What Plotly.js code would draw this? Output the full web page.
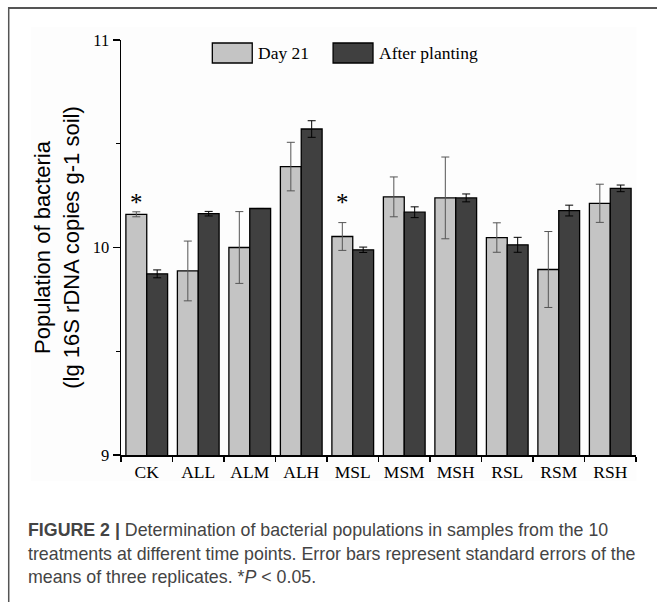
<!DOCTYPE html>
<html>
<head>
<meta charset="utf-8">
<script src="https://cdn.plot.ly/plotly-3.0.1.min.js"></script>
<style>
  html, body { margin: 0; padding: 0; background: #ffffff; }
  #chart { width: 657px; height: 602px; }
</style>
</head>
<body>
<div id="chart"></div>
<script>
// ---- data ----
const treatments = ['CK', 'ALL', 'ALM', 'ALH', 'MSL', 'MSM', 'MSH', 'RSL', 'RSM', 'RSH'];
const day21      = [10.160, 9.887, 10.000, 10.390, 10.053, 10.244, 10.239, 10.048, 9.894, 10.213];
const day21Err   = [0.012, 0.144, 0.173, 0.117, 0.067, 0.096, 0.197, 0.071, 0.183, 0.092];
const afterPlant = [9.873, 10.163, 10.188, 10.571, 9.989, 10.170, 10.239, 10.013, 10.178, 10.285];
const afterErr   = [0.019, 0.011, 0.0, 0.040, 0.013, 0.026, 0.019, 0.036, 0.026, 0.016];
const sigMarks   = ['*', '', '', '', '*', '', '', '', '', ''];
const seriesNames = ['Day 21', 'After planting'];
const yTicks = [9, 10, 11];

// ---- geometry helpers (pixels -> paper) ----
const W = 657, H = 602;
const L = 120.5, R = 636.5, T = 40, B = 455;
const px = v => (v - L) / (R - L);
const py = v => (B - v) / (B - T);

const lightCol = '#c4c4c4', darkCol = '#404040';

const traces = [
  {
    type: 'bar', name: seriesNames[0], x: treatments, y: day21,
    marker: { color: lightCol, line: { color: '#000', width: 1.3 } },
    error_y: { type: 'data', array: day21Err, visible: true, color: '#555', thickness: 1, width: 4 },
    showlegend: false
  },
  {
    type: 'bar', name: seriesNames[1], x: treatments, y: afterPlant,
    marker: { color: darkCol, line: { color: '#000', width: 1.3 } },
    error_y: { type: 'data', array: afterErr, visible: true, color: '#000', thickness: 1, width: 4 },
    showlegend: false
  }
];

const bargap = 0.19;
const barOffset = (1 - bargap) / 4;
const sigLevel = 10.215;

const annotations = [];
sigMarks.forEach((m, i) => {
  if (m) annotations.push({
    xref: 'x', yref: 'y', x: i - barOffset, y: sigLevel, text: m, showarrow: false,
    font: { family: 'Liberation Serif', size: 25, color: '#000' }, xanchor: 'center', yanchor: 'middle'
  });
});
// legend texts
annotations.push({ xref: 'paper', yref: 'paper', x: px(256), y: py(53), text: seriesNames[0], showarrow: false,
  xanchor: 'left', yanchor: 'middle', font: { family: 'Liberation Serif', size: 17.5, color: '#000' } });
annotations.push({ xref: 'paper', yref: 'paper', x: px(377), y: py(53), text: seriesNames[1], showarrow: false,
  xanchor: 'left', yanchor: 'middle', font: { family: 'Liberation Serif', size: 17.5, color: '#000' } });
// caption
const capFont = { family: 'Liberation Sans', size: 17.8, color: '#444' };
const capLines = [
  '<b>FIGURE 2 |</b> Determination of bacterial populations in samples from the 10',
  'treatments at different time points. Error bars represent standard errors of the',
  'means of three replicates. *<i>P</i> &lt; 0.05.'
];
capLines.forEach((t, k) => {
  annotations.push({ xref: 'paper', yref: 'paper', x: px(25), y: py(530 + k * 23.5), text: t, showarrow: false,
    xanchor: 'left', yanchor: 'middle', font: capFont, align: 'left' });
});

const shapes = [
  // chart image background
  { type: 'rect', xref: 'paper', yref: 'paper', x0: px(30), x1: px(637), y0: py(27), y1: py(481),
    fillcolor: '#fdfdfd', line: { width: 0 }, layer: 'below' },
  // figure frame
  { type: 'line', xref: 'paper', yref: 'paper', x0: px(8), x1: px(660), y0: py(8), y1: py(8),
    line: { color: '#555', width: 2 } },
  { type: 'line', xref: 'paper', yref: 'paper', x0: px(8), x1: px(8), y0: py(7), y1: py(610),
    line: { color: '#555', width: 1.5 } },
  // legend swatches
  { type: 'rect', xref: 'paper', yref: 'paper', x0: px(212), x1: px(252), y0: py(43), y1: py(63),
    fillcolor: lightCol, line: { color: '#000', width: 1.3 } },
  { type: 'rect', xref: 'paper', yref: 'paper', x0: px(333), x1: px(373), y0: py(43), y1: py(63),
    fillcolor: darkCol, line: { color: '#000', width: 1.3 } }
];

const layout = {
  width: W, height: H,
  margin: { l: L, r: W - R, t: T, b: H - B, pad: 0 },
  paper_bgcolor: '#ffffff', plot_bgcolor: 'rgba(0,0,0,0)',
  barmode: 'group', bargap: bargap, bargroupgap: 0,
  showlegend: false,
  xaxis: {
    type: 'category', showline: true, linecolor: '#000', linewidth: 1.5,
    ticks: 'outside', tickson: 'boundaries', ticklen: 5, tickwidth: 1.5, tickcolor: '#000',
    tickfont: { family: 'Liberation Serif', size: 17.5, color: '#000' },
    showgrid: false, zeroline: false, fixedrange: true
  },
  yaxis: {
    range: [9, 11], tickvals: yTicks, ticktext: yTicks.map(String),
    showline: true, linecolor: '#000', linewidth: 1.5,
    ticks: 'outside', ticklen: 7, tickwidth: 1.5, tickcolor: '#000',
    minor: { tickvals: [9.5, 10.5], ticks: 'outside', ticklen: 4, tickwidth: 1.2, tickcolor: '#000' },
    tickfont: { family: 'Liberation Serif', size: 16.5, color: '#000' },
    showgrid: false, zeroline: false, fixedrange: true,
    title: { text: 'Population of bacteria<br>(lg 16S rDNA copies g-1 soil)',
      font: { family: 'Liberation Sans', size: 22, color: '#000' }, standoff: 7 }
  },
  annotations: annotations,
  shapes: shapes
};

Plotly.newPlot('chart', traces, layout, { displayModeBar: false, staticPlot: true });
</script>
</body>
</html>
